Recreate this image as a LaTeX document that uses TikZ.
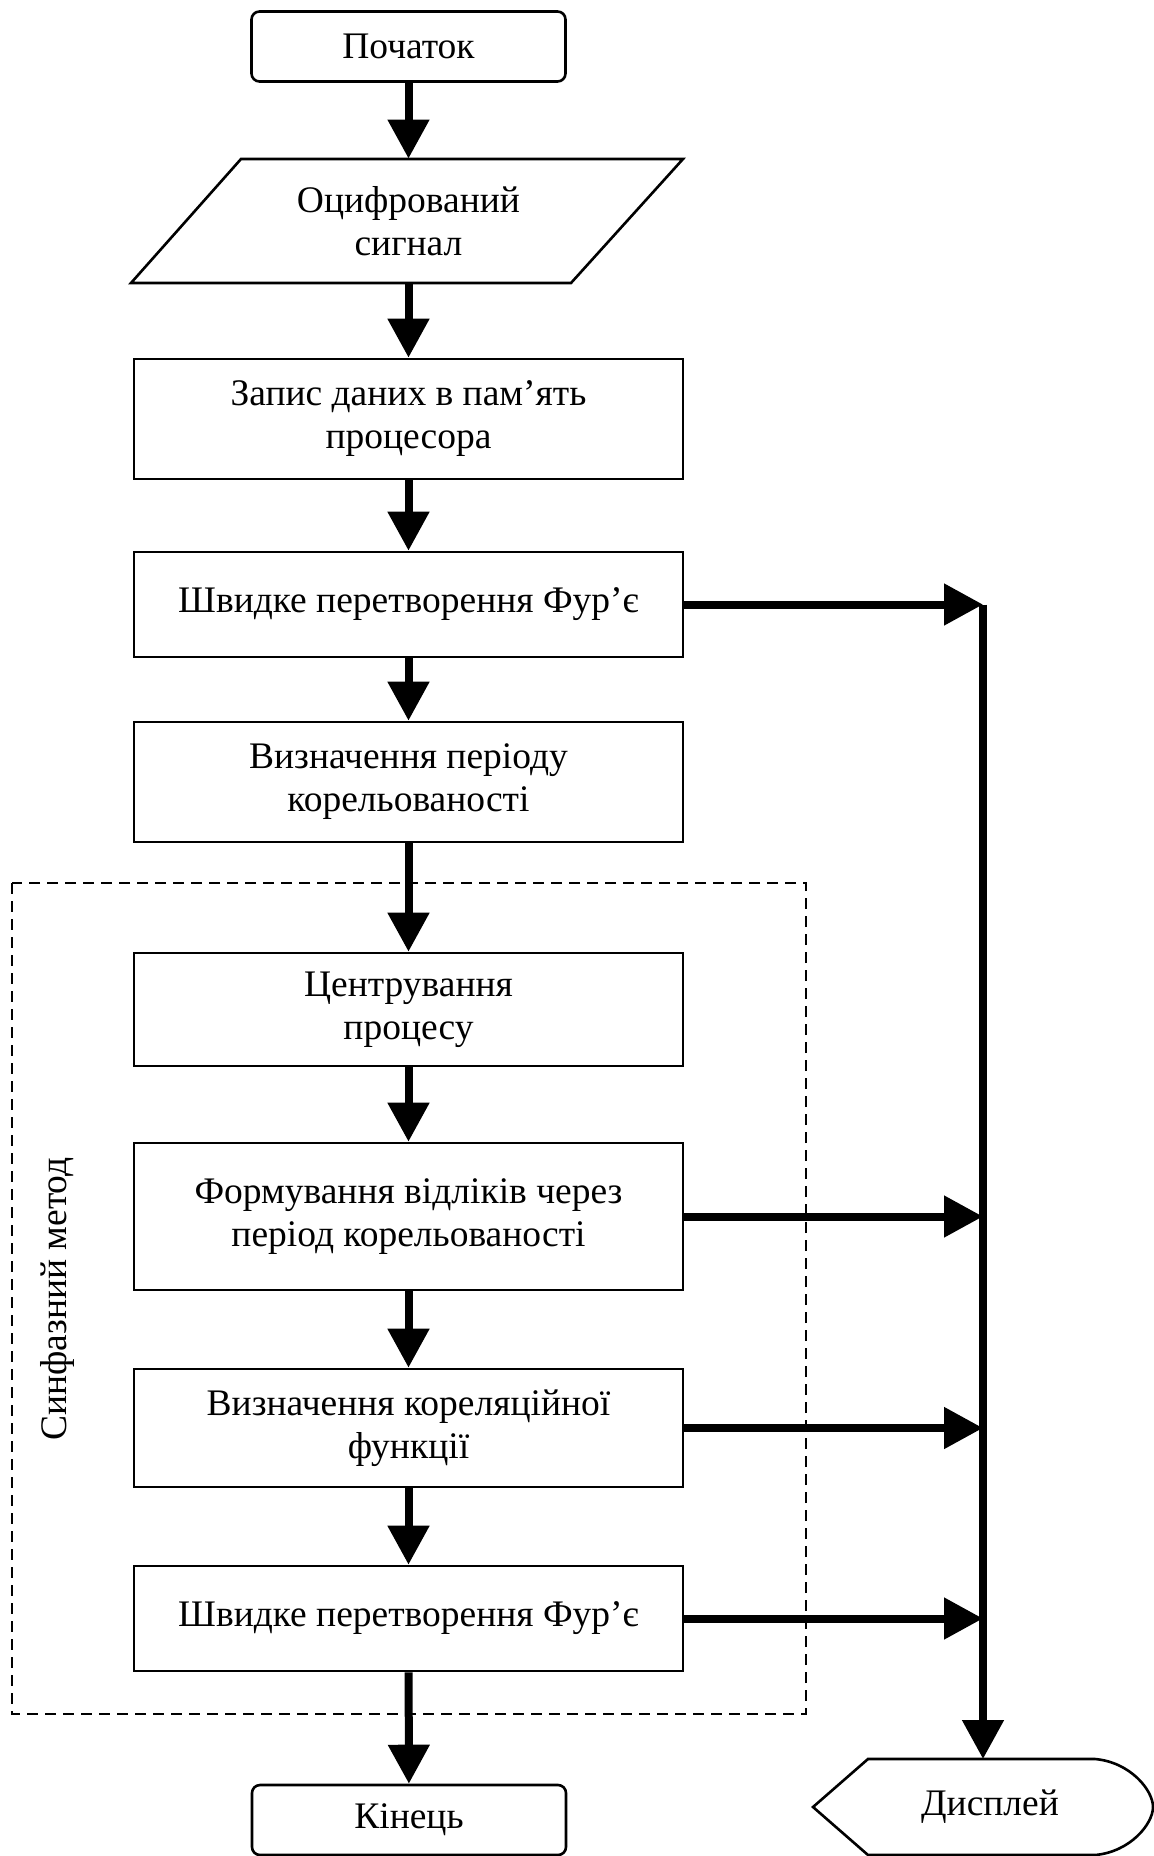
\documentclass[tikz,border=0pt]{standalone}
\usepackage{fontspec}
\setmainfont{Liberation Serif}
\usetikzlibrary{arrows.meta}

\begin{document}
\begin{tikzpicture}[x=0.5pt,y=-0.5pt,line join=miter,
  >={Triangle[length=19.5pt,width=20pt]},
  every node/.style={font=\fontsize{18.75pt}{21.5pt}\selectfont, align=center},
  procbox/.style={draw, line width=1.3pt, rectangle, minimum width=274.5pt},
  termbox/.style={draw, line width=1.3pt, rounded corners=4pt, minimum width=157pt, minimum height=35pt},
  flow/.style={->, line width=4pt},
]
%%
\useasboundingbox (0,0) rectangle (1154,1856);
  \node (start) at (408.5,46.5) [termbox] {Початок};
  \node (input) at (408.5,221) [minimum height=62pt] {Оцифрований\\сигнал};
  \node (write) at (408.5,419) [procbox, minimum height=60pt] {Запис даних в пам’ять\\процесора};
  \node (fft1) at (408.5,604.5) [procbox, minimum height=52.5pt] {Швидке перетворення Фур’є};
  \node (period) at (408.5,782) [procbox, minimum height=60pt] {Визначення періоду\\корельованості};
  \node (center) at (408.5,1009.5) [procbox, minimum height=56.5pt] {Центрування\\процесу};
  \node (form) at (408.5,1216.5) [procbox, minimum height=73.5pt] {Формування відліків через\\період корельованості};
  \node (corr) at (408.5,1428) [procbox, minimum height=59pt] {Визначення кореляційної\\функції};
  \node (fft2) at (408.5,1618.5) [procbox, minimum height=52.5pt] {Швидке перетворення Фур’є};
  \node (stop) at (409,1820) [termbox] {Кінець};
  \node (disp) at (990,1807) {Дисплей};
  \node (method) at (66,1299) [rotate=90, anchor=base] {Синфазний метод};
  \coordinate (bustop) at (983,604.5);
  \coordinate (distop) at (983,1759);
%
  \draw [line width=1.3pt] (131,283) -- (241,159) -- (683,159) -- (571,283) -- cycle;
  \draw [line width=1.3pt] (813,1807) -- (868,1759) -- (1095,1759) .. controls (1130,1762) and (1153,1790) .. (1153,1807) .. controls (1153,1824) and (1130,1852) .. (1095,1855) -- (868,1855) -- cycle;
  \draw [line width=1.4pt, dash pattern=on 5.5pt off 3.5pt] (12,883) rectangle (806,1714);
%
  \draw [flow] (start) -- (input);
  \draw [flow] (input) -- (write);
  \draw [flow] (write) -- (fft1);
  \draw [flow] (fft1) -- (period);
  \draw [flow] (period) -- (center);
  \draw [flow] (center) -- (form);
  \draw [flow] (form) -- (corr);
  \draw [flow] (corr) -- (fft2);
  \draw [flow] (fft2) -- (stop);
  \draw [flow] (fft1.east) -- (bustop);
  \draw [flow] (form.east) -- (form.east -| bustop);
  \draw [flow] (corr.east) -- (corr.east -| bustop);
  \draw [flow] (fft2.east) -- (fft2.east -| bustop);
  \draw [flow] (bustop) -- (distop);
%
\end{tikzpicture}
\end{document}
